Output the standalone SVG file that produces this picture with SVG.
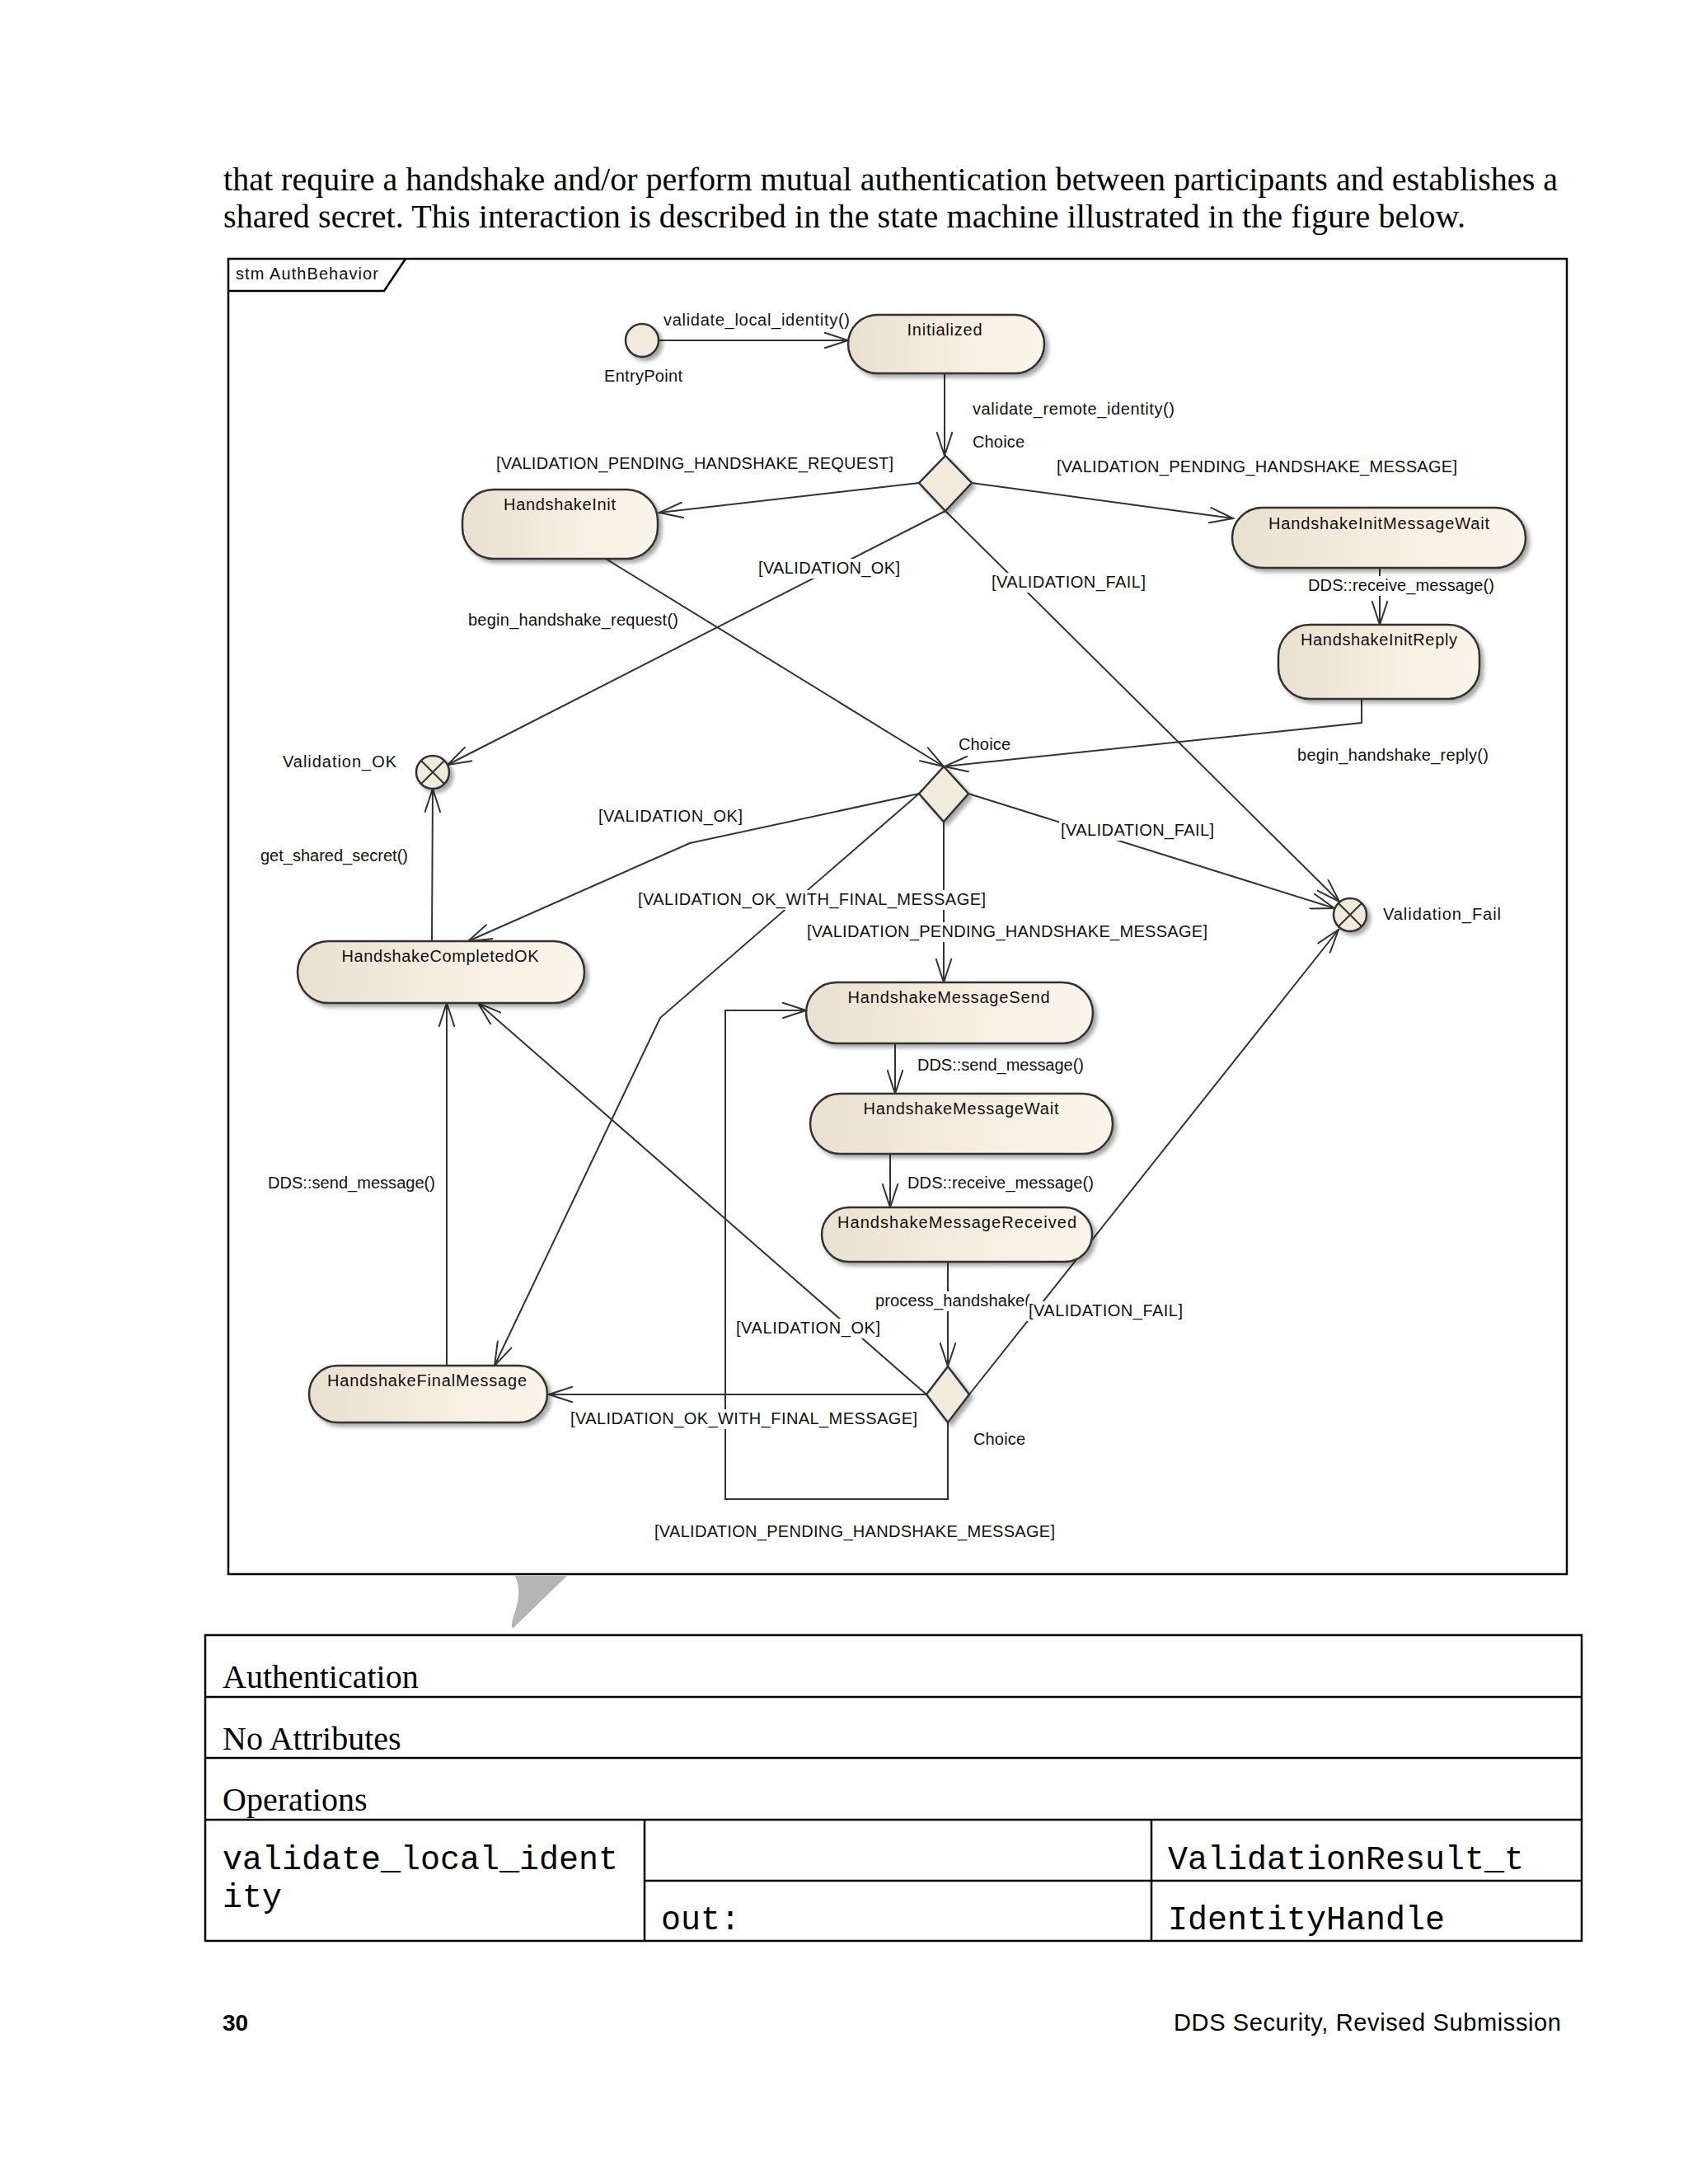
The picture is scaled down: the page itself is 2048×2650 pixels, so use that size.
<svg xmlns="http://www.w3.org/2000/svg" width="2048" height="2650" viewBox="0 0 2048 2650">
<defs>
<linearGradient id="g" x1="0" y1="0" x2="1" y2="0">
<stop offset="0" stop-color="#e9e0d0"/>
<stop offset="0.6" stop-color="#f8efe3"/>
<stop offset="1" stop-color="#fbf4ea"/>
</linearGradient>
<filter id="sh" x="-10%" y="-20%" width="130%" height="150%">
<feDropShadow dx="4" dy="4" stdDeviation="2.5" flood-color="#000" flood-opacity="0.35"/>
</filter>
<marker id="arr" markerUnits="userSpaceOnUse" viewBox="0 0 32 20" markerWidth="32" markerHeight="20" refX="30" refY="10" orient="auto">
<path d="M1,0.5 L30,10 L1,19.5" fill="none" stroke="#333" stroke-width="2"/>
</marker>
<style>
.lbl{font-family:"Liberation Sans",Arial,sans-serif;font-size:20px;fill:#111}
.nt{font-family:"Liberation Sans",Arial,sans-serif;font-size:20px;fill:#111;text-anchor:middle}
.node{fill:url(#g);stroke:#333;stroke-width:2.5;filter:url(#sh)}
.ps{fill:#f1eadd;stroke:#333;stroke-width:2.5;filter:url(#sh)}
.x{stroke:#333;stroke-width:2;fill:none}
.conn{fill:none;stroke:#333;stroke-width:2;marker-end:url(#arr)}
.line{fill:none;stroke:#333;stroke-width:2}
.bg{fill:#fff}
.ser{font-family:"Liberation Serif","Times New Roman",serif;font-size:40px;fill:#000}
.mono{font-family:"Liberation Mono","Courier New",monospace;font-size:40px;fill:#000}
.tb{fill:none;stroke:#000;stroke-width:2.5}
</style>
</defs>
<rect x="0" y="0" width="2048" height="2650" fill="#fff"/>

<!-- page text -->
<text class="ser" x="271" y="231" textLength="1619">that require a handshake and/or perform mutual authentication between participants and establishes a</text>
<text class="ser" x="271" y="276" textLength="1507">shared secret. This interaction is described in the state machine illustrated in the figure below.</text>

<!-- frame -->
<g id="frame">
<rect x="277" y="314" width="1624" height="1596" fill="#fff" stroke="#000" stroke-width="2.5"/>
<polyline points="277,353 466,353 492,314" fill="none" stroke="#000" stroke-width="2.5"/>
<text class="lbl" x="286" y="339" textLength="173">stm AuthBehavior</text>
</g>

<!-- connectors -->
<g id="connectors">
<polyline class="conn" points="799,413 1029,413"/>
<polyline class="conn" points="1146,453 1146,553"/>
<polyline class="conn" points="1115,586 800,622"/>
<polyline class="conn" points="1179,586 1496,629"/>
<polyline class="conn" points="1147,620 543,928"/>
<polyline class="conn" points="1147,620 1625,1094"/>
<polyline class="conn" points="735,678 1145,930"/>
<polyline class="conn" points="1674,689 1674,758"/>
<polyline class="conn" points="1652,848 1652,877 1146,930"/>
<polyline class="conn" points="1115,963 837,1023 568,1142"/>
<polyline class="conn" points="1115,963 801,1235 600,1657"/>
<polyline class="conn" points="1145,997 1145,1192"/>
<polyline class="conn" points="1175,963 1619,1102"/>
<polyline class="conn" points="524,1142 525,957"/>
<polyline class="conn" points="1086,1266 1086,1327"/>
<polyline class="conn" points="1080,1400 1080,1465"/>
<polyline class="conn" points="1150,1531 1150,1658"/>
<polyline class="conn" points="1124,1692 666,1692"/>
<polyline class="conn" points="1124,1692 580,1217"/>
<polyline class="conn" points="1176,1692 1624,1128"/>
<polyline class="conn" points="1150,1726 1150,1819 880,1819 880,1226 978,1226"/>
<polyline class="conn" points="542,1657 542,1217"/>
</g>

<!-- connector labels -->
<g id="labels">
<text class="lbl" x="805" y="395" textLength="226">validate_local_identity()</text>
<text class="lbl" x="1180" y="503" textLength="245">validate_remote_identity()</text>
<text class="lbl" x="602" y="569" textLength="482">[VALIDATION_PENDING_HANDSHAKE_REQUEST]</text>
<text class="lbl" x="1282" y="573" textLength="486">[VALIDATION_PENDING_HANDSHAKE_MESSAGE]</text>
<rect class="bg" x="918" y="678" width="176" height="24"/>
<text class="lbl" x="920" y="696" textLength="172">[VALIDATION_OK]</text>
<rect class="bg" x="1201" y="695" width="191" height="24"/>
<text class="lbl" x="1203" y="713" textLength="187">[VALIDATION_FAIL]</text>
<rect class="bg" x="1585" y="699" width="230" height="24"/>
<text class="lbl" x="1587" y="717" textLength="226">DDS::receive_message()</text>
<text class="lbl" x="568" y="759" textLength="255">begin_handshake_request()</text>
<text class="lbl" x="1574" y="923" textLength="232">begin_handshake_reply()</text>
<text class="lbl" x="726" y="997" textLength="175">[VALIDATION_OK]</text>
<rect class="bg" x="1285" y="996" width="190" height="24"/>
<text class="lbl" x="1287" y="1014" textLength="186">[VALIDATION_FAIL]</text>
<text class="lbl" x="316" y="1045" textLength="179">get_shared_secret()</text>
<rect class="bg" x="772" y="1080" width="426" height="24"/>
<text class="lbl" x="774" y="1098" textLength="422">[VALIDATION_OK_WITH_FINAL_MESSAGE]</text>
<rect class="bg" x="977" y="1119" width="490" height="24"/>
<text class="lbl" x="979" y="1137" textLength="486">[VALIDATION_PENDING_HANDSHAKE_MESSAGE]</text>
<text class="lbl" x="1113" y="1299" textLength="202">DDS::send_message()</text>
<text class="lbl" x="325" y="1442" textLength="203">DDS::send_message()</text>
<text class="lbl" x="1101" y="1442" textLength="226">DDS::receive_message()</text>
<rect class="bg" x="1060" y="1567" width="190" height="24"/>
<text class="lbl" x="1062" y="1585" textLength="188">process_handshake(</text>
<rect class="bg" x="1246" y="1579" width="191" height="24"/>
<text class="lbl" x="1248" y="1597" textLength="187">[VALIDATION_FAIL]</text>
<rect class="bg" x="891" y="1600" width="179" height="24"/>
<text class="lbl" x="893" y="1618" textLength="175">[VALIDATION_OK]</text>
<rect class="bg" x="690" y="1710" width="425" height="24"/>
<text class="lbl" x="692" y="1728" textLength="421">[VALIDATION_OK_WITH_FINAL_MESSAGE]</text>
<text class="lbl" x="794" y="1865" textLength="486">[VALIDATION_PENDING_HANDSHAKE_MESSAGE]</text>
</g>

<!-- nodes -->
<g id="EntryPoint">
<circle class="ps" cx="779" cy="413" r="20"/>
<text class="lbl" x="733" y="463" textLength="95">EntryPoint</text>
</g>
<g id="Initialized">
<rect class="node" x="1029" y="382" width="238" height="71" rx="35.5"/>
<text class="nt" x="1146" y="407" textLength="91">Initialized</text>
</g>
<g id="Choice1">
<polygon class="ps" points="1147,553 1179,586 1147,620 1115,586"/>
<text class="lbl" x="1180" y="543" textLength="63">Choice</text>
</g>
<g id="HandshakeInit">
<rect class="node" x="561" y="594" width="237" height="84" rx="38"/>
<text class="nt" x="679" y="619" textLength="136">HandshakeInit</text>
</g>
<g id="HandshakeInitMessageWait">
<rect class="node" x="1495" y="616" width="356" height="73" rx="36.5"/>
<text class="nt" x="1673" y="642" textLength="268">HandshakeInitMessageWait</text>
</g>
<g id="HandshakeInitReply">
<rect class="node" x="1551" y="758" width="244" height="90" rx="38"/>
<text class="nt" x="1673" y="783" textLength="190">HandshakeInitReply</text>
</g>
<g id="Choice2">
<polygon class="ps" points="1145,930 1175,963 1145,997 1115,963"/>
<text class="lbl" x="1163" y="910" textLength="63">Choice</text>
</g>
<g id="Validation_OK">
<circle class="ps" cx="525" cy="937" r="20"/>
<path class="x" d="M511,923 L539,951 M539,923 L511,951"/>
<text class="lbl" x="343" y="931" textLength="138">Validation_OK</text>
</g>
<g id="Validation_Fail">
<circle class="ps" cx="1638" cy="1110" r="20"/>
<path class="x" d="M1624,1096 L1652,1124 M1652,1096 L1624,1124"/>
<text class="lbl" x="1678" y="1116" textLength="143">Validation_Fail</text>
</g>
<g id="HandshakeCompletedOK">
<rect class="node" x="361" y="1142" width="348" height="75" rx="37.5"/>
<text class="nt" x="534" y="1167" textLength="239">HandshakeCompletedOK</text>
</g>
<g id="HandshakeMessageSend">
<rect class="node" x="978" y="1192" width="348" height="74" rx="37"/>
<text class="nt" x="1151" y="1217" textLength="245">HandshakeMessageSend</text>
</g>
<g id="HandshakeMessageWait">
<rect class="node" x="983" y="1327" width="367" height="73" rx="36.5"/>
<text class="nt" x="1166" y="1352" textLength="237">HandshakeMessageWait</text>
</g>
<g id="HandshakeMessageReceived">
<rect class="node" x="997" y="1465" width="328" height="66" rx="33"/>
<text class="nt" x="1161" y="1490" textLength="290">HandshakeMessageReceived</text>
</g>
<g id="Choice3">
<polygon class="ps" points="1150,1658 1176,1692 1150,1726 1124,1692"/>
<text class="lbl" x="1181" y="1753" textLength="63">Choice</text>
</g>
<g id="HandshakeFinalMessage">
<rect class="node" x="375" y="1657" width="289" height="69" rx="34.5"/>
<text class="nt" x="518" y="1682" textLength="242">HandshakeFinalMessage</text>
</g>

<!-- grey tail artifact -->
<path d="M625,1912 L688,1912 L622,1976 C616,1966 638,1942 625,1912 Z" fill="#b5b5b5"/>

<!-- table -->
<g id="table">
<rect class="tb" x="249" y="1984" width="1670" height="371"/>
<line class="tb" x1="249" y1="2059" x2="1919" y2="2059"/>
<line class="tb" x1="249" y1="2133" x2="1919" y2="2133"/>
<line class="tb" x1="249" y1="2208" x2="1919" y2="2208"/>
<line class="tb" x1="782" y1="2282" x2="1919" y2="2282"/>
<line class="tb" x1="782" y1="2208" x2="782" y2="2355"/>
<line class="tb" x1="1397" y1="2208" x2="1397" y2="2355"/>
<text class="ser" x="270" y="2048">Authentication</text>
<text class="ser" x="270" y="2123">No Attributes</text>
<text class="ser" x="270" y="2197">Operations</text>
<text class="mono" x="270" y="2268">validate_local_ident</text>
<text class="mono" x="270" y="2314">ity</text>
<text class="mono" x="1417" y="2268">ValidationResult_t</text>
<text class="mono" x="802" y="2341">out:</text>
<text class="mono" x="1417" y="2341">IdentityHandle</text>
</g>

<!-- footer -->
<text x="270" y="2464" font-family="Liberation Sans,Arial,sans-serif" font-size="28" font-weight="bold">30</text>
<text x="1424" y="2464" font-family="Liberation Sans,Arial,sans-serif" font-size="29" textLength="470">DDS Security, Revised Submission</text>
</svg>
